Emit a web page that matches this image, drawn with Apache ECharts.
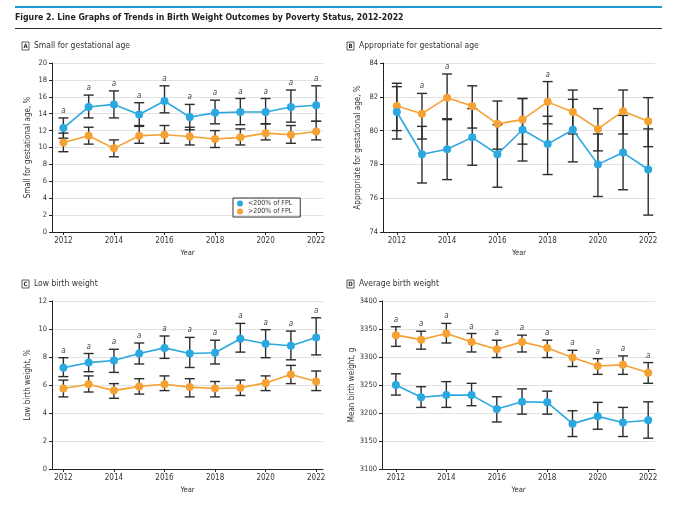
<!DOCTYPE html>
<html>
<head>
<meta charset="utf-8">
<script src="https://cdn.jsdelivr.net/npm/echarts@6/dist/echarts.min.js"></script>
<style>
  html, body { margin: 0; padding: 0; background: #fff; }
  #chart { width: 700px; height: 507px; }
</style>
</head>
<body>
<div id="chart"></div>
<script>
// years on the x axis
var years = [2012, 2013, 2014, 2015, 2016, 2017, 2018, 2019, 2020, 2021, 2022];
var yearTicks = [2012, 2014, 2016, 2018, 2020, 2022];

// A. small for gestational age, %
var sgaLow   = [12.3, 14.8, 15.1, 13.9, 15.5, 13.6, 14.1, 14.2, 14.2, 14.8, 15.0];
var sgaLowLo = [11.1, 13.5, 13.5, 12.6, 14.1, 12.1, 12.8, 12.7, 12.8, 13.0, 13.1];
var sgaLowHi = [13.5, 16.2, 16.7, 15.3, 17.3, 15.1, 15.6, 15.8, 15.8, 16.8, 17.3];
var sgaHigh   = [10.6, 11.4, 9.9, 11.4, 11.5, 11.3, 11.0, 11.2, 11.7, 11.5, 11.9];
var sgaHighLo = [9.5, 10.4, 8.9, 10.5, 10.5, 10.3, 10.0, 10.3, 10.9, 10.5, 10.9];
var sgaHighHi = [11.7, 12.4, 10.9, 12.5, 12.6, 12.4, 12.0, 12.2, 12.8, 12.6, 13.1];
var sgaSig = [1, 1, 1, 1, 1, 1, 1, 1, 1, 1, 1];

// B. appropriate for gestational age, %
var agaLow   = [81.1, 78.6, 78.9, 79.6, 78.6, 80.05, 79.2, 80.05, 78.0, 78.7, 77.7];
var agaLowLo = [79.5, 76.9, 77.1, 77.95, 76.65, 78.2, 77.4, 78.15, 76.1, 76.5, 75.0];
var agaLowHi = [82.6, 80.25, 80.7, 81.3, 80.35, 81.9, 80.85, 81.85, 79.8, 80.9, 80.1];
var agaHigh   = [81.45, 81.0, 81.95, 81.45, 80.4, 80.65, 81.7, 81.1, 80.1, 81.15, 80.55];
var agaHighLo = [80.0, 79.5, 80.65, 80.15, 78.9, 79.2, 80.4, 79.8, 78.8, 79.8, 79.05];
var agaHighHi = [82.8, 82.2, 83.35, 82.65, 81.75, 81.9, 82.9, 82.4, 81.3, 82.4, 81.95];
var agaSig = [0, 1, 1, 0, 0, 0, 1, 0, 0, 0, 0];

// C. low birth weight, %
var lbwLow   = [7.23, 7.6, 7.75, 8.25, 8.65, 8.25, 8.3, 9.3, 8.95, 8.8, 9.4];
var lbwLowLo = [6.6, 6.95, 6.9, 7.5, 7.9, 7.25, 7.5, 8.35, 7.95, 7.8, 8.15];
var lbwLowHi = [7.95, 8.25, 8.55, 9.0, 9.5, 9.4, 9.2, 10.4, 9.95, 9.85, 10.8];
var lbwHigh   = [5.75, 6.05, 5.6, 5.9, 6.05, 5.85, 5.75, 5.8, 6.15, 6.75, 6.25];
var lbwHighLo = [5.15, 5.5, 5.05, 5.35, 5.6, 5.15, 5.15, 5.25, 5.6, 6.1, 5.6];
var lbwHighHi = [6.35, 6.65, 6.1, 6.45, 6.65, 6.45, 6.25, 6.35, 6.65, 7.4, 7.0];
var lbwSig = [1, 1, 1, 1, 1, 1, 1, 1, 1, 1, 1];

// D. mean birth weight, g
var bwLow   = [3250, 3228, 3232, 3232, 3207, 3220, 3219, 3181, 3194, 3183, 3187];
var bwLowLo = [3232, 3210, 3210, 3213, 3184, 3198, 3198, 3158, 3171, 3158, 3155];
var bwLowHi = [3270, 3247, 3256, 3253, 3229, 3243, 3239, 3204, 3219, 3210, 3220];
var bwHigh   = [3339, 3331, 3342, 3327, 3314, 3327, 3316, 3299, 3284, 3286, 3272];
var bwHighLo = [3319, 3314, 3325, 3309, 3299, 3309, 3299, 3283, 3269, 3269, 3253];
var bwHighHi = [3354, 3346, 3360, 3342, 3330, 3339, 3330, 3312, 3297, 3302, 3290];
var bwSig = [1, 1, 1, 1, 1, 1, 1, 1, 1, 1, 1];

var BLUE = '#2ba8df';
var ORANGE = '#f5a133';
var BAR = '#2d2d2d';
var FONT = '"Liberation Sans Narrow", "DejaVu Sans Condensed", sans-serif';

var chart = echarts.init(document.getElementById('chart'));

var panels = [
  {letter: 'A', title: 'Small for gestational age', yName: 'Small for gestational age, %',
   min: 0, max: 20, step: 2, nameGap: 20,
   grid: {left: 52, top: 63, width: 271, height: 169}, xMin: 2011.55,
   low: sgaLow, lowLo: sgaLowLo, lowHi: sgaLowHi,
   high: sgaHigh, highLo: sgaHighLo, highHi: sgaHighHi, sig: sgaSig},
  {letter: 'B', title: 'Appropriate for gestational age', yName: 'Appropriate for gestational age, %',
   min: 74, max: 84, step: 2, nameGap: 21,
   grid: {left: 383, top: 63, width: 272, height: 169}, xMin: 2011.45,
   low: agaLow, lowLo: agaLowLo, lowHi: agaLowHi,
   high: agaHigh, highLo: agaHighLo, highHi: agaHighHi, sig: agaSig},
  {letter: 'C', title: 'Low birth weight', yName: 'Low birth weight, %',
   min: 0, max: 12, step: 2, nameGap: 20,
   grid: {left: 52, top: 301, width: 271, height: 168}, xMin: 2011.55,
   low: lbwLow, lowLo: lbwLowLo, lowHi: lbwLowHi,
   high: lbwHigh, highLo: lbwHighLo, highHi: lbwHighHi, sig: lbwSig},
  {letter: 'D', title: 'Average birth weight', yName: 'Mean birth weight, g',
   min: 3100, max: 3400, step: 50, nameGap: 26,
   grid: {left: 382, top: 301, width: 273, height: 168}, xMin: 2011.45,
   low: bwLow, lowLo: bwLowLo, lowHi: bwLowHi,
   high: bwHigh, highLo: bwHighLo, highHi: bwHighHi, sig: bwSig}
];

function errorBars(params, api) {
  var x = api.value(0);
  var top = api.coord([x, api.value(2)]);
  var bot = api.coord([x, api.value(1)]);
  var w = 5;
  var st = {stroke: BAR, lineWidth: 1.4};
  return {
    type: 'group',
    children: [
      {type: 'line', shape: {x1: top[0], y1: top[1], x2: bot[0], y2: bot[1]}, style: st},
      {type: 'line', shape: {x1: top[0] - w, y1: top[1], x2: top[0] + w, y2: top[1]}, style: st},
      {type: 'line', shape: {x1: bot[0] - w, y1: bot[1], x2: bot[0] + w, y2: bot[1]}, style: st}
    ]
  };
}

function sigMark(params, api) {
  if (!api.value(2)) return null;
  var p = api.coord([api.value(0), api.value(1)]);
  return {
    type: 'text',
    style: {text: 'a', x: p[0], y: p[1] - 3, align: 'center', verticalAlign: 'bottom',
            fontSize: 8, fontStyle: 'italic', fontFamily: FONT, fill: '#444'}
  };
}

function plain(v) { return String(v); }

var grids = [], xAxes = [], yAxes = [], series = [], graphics = [];

// header rules and figure title
graphics.push({type: 'rect', shape: {x: 15, y: 6, width: 647, height: 2}, style: {fill: '#1b9ad2'}});
graphics.push({type: 'text', x: 15, y: 18,
  style: {text: 'Figure 2. Line Graphs of Trends in Birth Weight Outcomes by Poverty Status, 2012-2022',
          verticalAlign: 'middle', font: 'bold 8.7px ' + FONT, fill: '#222'}});
graphics.push({type: 'rect', shape: {x: 15, y: 28, width: 647, height: 1}, style: {fill: '#333'}});

panels.forEach(function (p, i) {
  grids.push(p.grid);
  xAxes.push({
    type: 'value', gridIndex: i, min: p.xMin, max: 2022.27,
    name: 'Year', nameLocation: 'middle', nameGap: 17,
    nameTextStyle: {fontSize: 7.5, fontFamily: FONT, color: '#333'},
    axisLine: {lineStyle: {color: '#222', width: 1}},
    axisTick: {customValues: yearTicks, length: 3, lineStyle: {color: '#222'}},
    axisLabel: {customValues: yearTicks, formatter: plain, fontSize: 8, fontFamily: FONT,
                color: '#333', margin: 5},
    splitLine: {show: false}
  });
  yAxes.push({
    type: 'value', gridIndex: i, min: p.min, max: p.max, interval: p.step,
    name: p.yName, nameLocation: 'middle', nameGap: p.nameGap,
    nameTextStyle: {fontSize: 8, fontFamily: FONT, color: '#333'},
    axisLine: {show: true, lineStyle: {color: '#222', width: 1}},
    axisTick: {show: true, length: 3, lineStyle: {color: '#222'}},
    axisLabel: {formatter: plain, fontSize: 7.5, fontFamily: FONT, color: '#333', margin: 5},
    splitLine: {lineStyle: {color: '#e2e2e2', width: 1}}
  });

  var lowBars = [], highBars = [], sigs = [], lowPts = [], highPts = [];
  for (var k = 0; k < years.length; k++) {
    lowBars.push([years[k], p.lowLo[k], p.lowHi[k]]);
    highBars.push([years[k], p.highLo[k], p.highHi[k]]);
    sigs.push([years[k], Math.max(p.lowHi[k], p.highHi[k]), p.sig[k]]);
    lowPts.push([years[k], p.low[k]]);
    highPts.push([years[k], p.high[k]]);
  }

  series.push({type: 'custom', xAxisIndex: i, yAxisIndex: i, renderItem: errorBars,
               data: highBars, encode: {x: 0, y: [1, 2]}, z: 1, silent: true});
  series.push({type: 'custom', xAxisIndex: i, yAxisIndex: i, renderItem: errorBars,
               data: lowBars, encode: {x: 0, y: [1, 2]}, z: 1, silent: true});
  series.push({type: 'custom', xAxisIndex: i, yAxisIndex: i, renderItem: sigMark,
               data: sigs, encode: {x: 0, y: 1}, z: 1, silent: true});
  series.push({name: '>200% of FPL', type: 'line', xAxisIndex: i, yAxisIndex: i, data: highPts,
               symbol: 'circle', symbolSize: 8, color: ORANGE, lineStyle: {width: 1.6}, z: 3});
  series.push({name: '<200% of FPL', type: 'line', xAxisIndex: i, yAxisIndex: i, data: lowPts,
               symbol: 'circle', symbolSize: 8, color: BLUE, lineStyle: {width: 1.6}, z: 3});

  // panel label: boxed letter plus title
  var bx = p.grid.left < 200 ? 22 : 347;
  var by = p.grid.top - 21;
  graphics.push({type: 'rect', shape: {x: bx, y: by, width: 7, height: 8},
                 style: {fill: '#fff', stroke: '#333', lineWidth: 0.8}});
  graphics.push({type: 'text', x: bx + 3.5, y: by + 4,
                 style: {text: p.letter, align: 'center', verticalAlign: 'middle',
                         font: 'bold 6px ' + FONT, fill: '#222'}});
  graphics.push({type: 'text', x: bx + 12, y: by + 4,
                 style: {text: p.title, verticalAlign: 'middle', font: '8.5px ' + FONT, fill: '#333'}});
});

chart.setOption({
  animation: false,
  grid: grids,
  xAxis: xAxes,
  yAxis: yAxes,
  series: series,
  graphic: graphics,
  legend: {
    data: ['<200% of FPL', '>200% of FPL'],
    orient: 'vertical', left: 233, top: 198,
    icon: 'circle', itemWidth: 6, itemHeight: 6, itemGap: 1,
    padding: [2, 8, 2, 4],
    borderColor: '#333', borderWidth: 1,
    textStyle: {fontSize: 7, fontFamily: FONT, color: '#333'}
  }
});
</script>
</body>
</html>
